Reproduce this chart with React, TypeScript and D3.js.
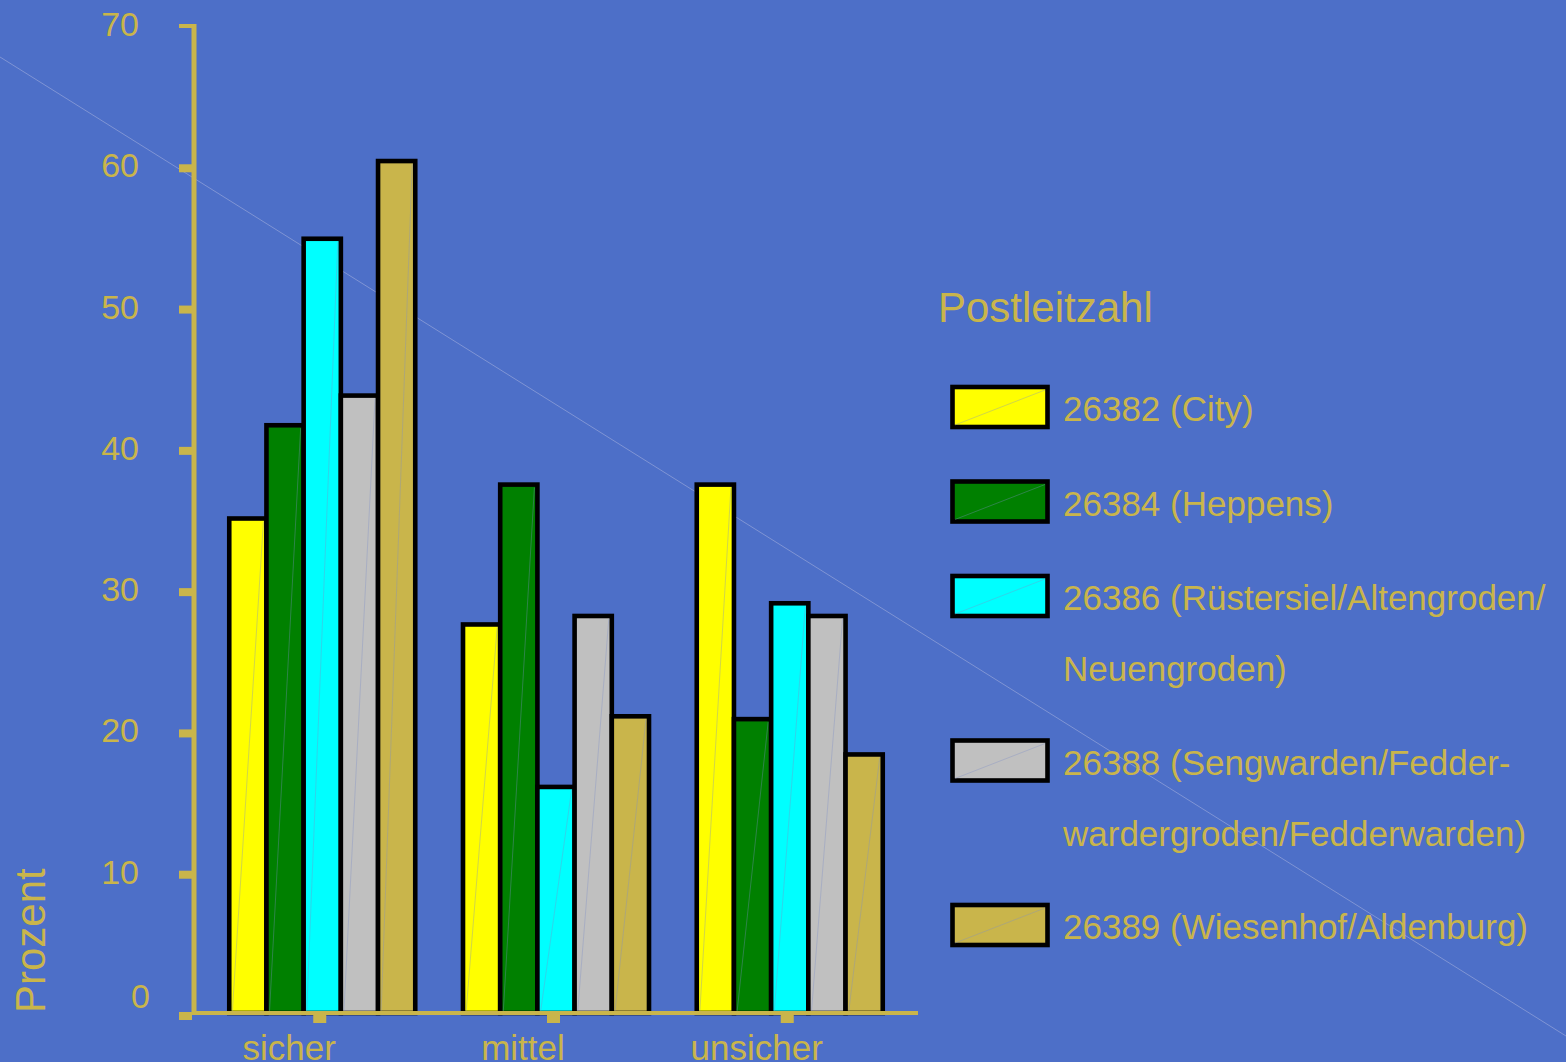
import React from "react";
import * as d3 from "d3";

const categories = ["sicher", "mittel", "unsicher"];
const seriesKeys = ["26382", "26384", "26386", "26388", "26389"];
const city = [35.0, 27.5, 37.4];
const heppens = [41.6, 37.4, 20.8];
const ruestersiel = [54.8, 16.0, 29.0];
const sengwarden = [43.7, 28.1, 28.1];
const wiesenhof = [60.3, 21.0, 18.3];
const seriesValues = [city, heppens, ruestersiel, sengwarden, wiesenhof];
const seriesColors = ["#FFFF00", "#008000", "#00FFFF", "#C0C0C0", "#C9B54B"];
const legendLines = [
  ["26382 (City)"],
  ["26384 (Heppens)"],
  ["26386 (Rüstersiel/Altengroden/", "Neuengroden)"],
  ["26388 (Sengwarden/Fedder-", "wardergroden/Fedderwarden)"],
  ["26389 (Wiesenhof/Aldenburg)"],
];
const yTicks = [0, 10, 20, 30, 40, 50, 60, 70];
const legendTitle = "Postleitzahl";
const yTitle = "Prozent";

const W = 1566;
const H = 1062;
const BG = "#4D6FC8";
const GOLD = "#C9B54B";
const FONT = "'Liberation Sans', Arial, Helvetica, sans-serif";

export default function App() {
  const left = 194;
  const right = 918;
  const y = d3.scaleLinear().domain([0, 70]).range([1013, 24]);
  const x0 = d3
    .scaleBand<string>()
    .domain(categories)
    .range([left, right])
    .paddingInner(0.2043)
    .paddingOuter(0.1508);
  const x1 = d3
    .scaleBand<string>()
    .domain(seriesKeys)
    .range([0, x0.bandwidth()])
    .padding(0);

  // legend layout
  let acc = 387;
  const legendTops = legendLines.map((lines) => {
    const t = acc;
    acc += 94.5 + 70 * (lines.length - 1);
    return t;
  });

  return (
    <svg
      width={W}
      height={H}
      style={{ position: "absolute", left: 0, top: 0, display: "block" }}
      fontFamily={FONT}
    >
      <rect x={0} y={0} width={W} height={H} fill={BG} />
      {/* faint background diagonal */}
      <line x1={0} y1={57} x2={W} y2={1036} stroke="#8C9ED8" strokeWidth={1} opacity={0.8} />

      {/* bars */}
      {categories.map((cat, ci) => (
        <g key={cat} transform={`translate(${x0(cat)},0)`}>
          {seriesKeys.map((k, si) => {
            const v = seriesValues[si][ci];
            const bx = x1(k)!;
            const bw = x1.bandwidth();
            const top = y(v);
            const bottom = y(0);
            return (
              <g key={k}>
                <rect
                  x={bx}
                  y={top}
                  width={bw}
                  height={bottom - top}
                  fill={seriesColors[si]}
                  stroke="#000"
                  strokeWidth={4.6}
                />
                <line
                  x1={bx + 3}
                  y1={bottom}
                  x2={bx + bw - 3}
                  y2={top + 3}
                  stroke="#7F8FC8"
                  strokeWidth={0.8}
                  opacity={0.45}
                />
              </g>
            );
          })}
        </g>
      ))}

      {/* y axis */}
      <line x1={left} y1={y(70)} x2={left} y2={1015} stroke={GOLD} strokeWidth={5} />
      {yTicks.map((t, i) => {
        const ty = y(t);
        const isTop = t === 70;
        const isZero = t === 0;
        return (
          <g key={t}>
            <rect x={179} y={isTop ? ty : ty - 1} width={13} height={isTop ? 4 : 8} fill={GOLD} />
            <text
              x={isZero ? 150 : 139}
              y={isZero ? ty - 5 : ty + 12}
              textAnchor="end"
              fontSize={34}
              fill={GOLD}
            >
              {t}
            </text>
          </g>
        );
      })}

      {/* x axis */}
      <line x1={192} y1={y(0)} x2={right} y2={y(0)} stroke={GOLD} strokeWidth={4} />
      {categories.map((cat) => {
        const cx = x0(cat)! + x0.bandwidth() / 2;
        return (
          <g key={cat}>
            <rect x={cx - 2.5 - 6.5} y={1015} width={13} height={8} fill={GOLD} />
            <text x={cx - 33} y={1060} textAnchor="middle" fontSize={35} fill={GOLD}>
              {cat}
            </text>
          </g>
        );
      })}

      {/* y title */}
      <text
        transform={`translate(45,1013) rotate(-90)`}
        x={0}
        y={0}
        fontSize={42}
        fill={GOLD}
      >
        {yTitle}
      </text>

      {/* legend */}
      <text x={938} y={322} fontSize={42} fill={GOLD}>
        {legendTitle}
      </text>
      {legendLines.map((lines, i) => {
        const top = legendTops[i];
        return (
          <g key={i}>
            <rect
              x={952.5}
              y={top}
              width={95}
              height={40}
              fill={seriesColors[i]}
              stroke="#000"
              strokeWidth={4.6}
            />
            <line
              x1={955}
              y1={top + 38}
              x2={1045}
              y2={top + 3}
              stroke="#7F8FC8"
              strokeWidth={0.8}
              opacity={0.45}
            />
            {lines.map((ln, li) => (
              <text key={li} x={1063} y={top + 34 + li * 71} fontSize={35} fill={GOLD}>
                {ln}
              </text>
            ))}
          </g>
        );
      })}
    </svg>
  );
}
